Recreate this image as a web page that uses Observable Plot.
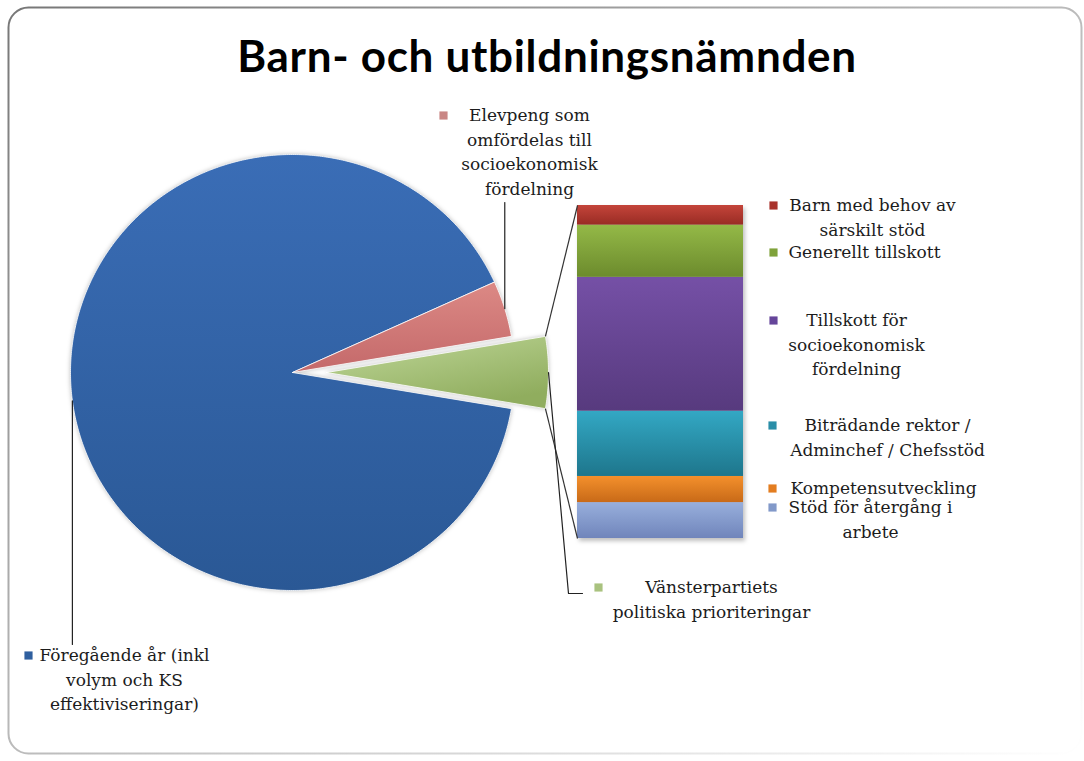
<!DOCTYPE html>
<html><head><meta charset="utf-8">
<script src="https://cdn.jsdelivr.net/npm/d3@7"></script>
<script src="https://cdn.jsdelivr.net/npm/@observablehq/plot@0.6"></script>
<style>
body{margin:0;background:#fff}
#wrap{position:relative;width:1084px;height:761px;overflow:hidden;background:#fff}
#wrap > svg{position:absolute;left:0;top:0}
</style></head><body><div id="wrap"></div>
<script>
// ---------- DATA ----------
const title = "Barn- och utbildningsnämnden";
const pieLabels = [
  "Föregående år (inkl\nvolym och KS\neffektiviseringar)",
  "Elevpeng som\nomfördelas till\nsocioekonomisk\nfördelning",
  "Vänsterpartiets\npolitiska prioriteringar"
];
const pieValues = [871, 40];            // third slice = sum of the bar below
const barLabels = [
  "Barn med behov av\nsärskilt stöd",
  "Generellt tillskott",
  "Tillskott för\nsocioekonomisk\nfördelning",
  "Biträdande rektor /\nAdminchef / Chefsstöd",
  "Kompetensutveckling",
  "Stöd för återgång i\narbete"
];
const barValues = [3, 8, 20.5, 10, 4, 5.5];

// ---------- STYLE ----------
const pieColors = [["#3a6db6", "#2a5895"], ["#dc8985", "#c4696a"], ["#c0d89a", "#90ad5e"]];
const pieMarker = ["#2f5f9f", "#c98684", "#a9c27f"];
const barColors = [["#c4443a", "#992c24"], ["#94b947", "#6c8b2d"], ["#7550a6", "#573a7e"],
                   ["#33a8c4", "#1e768c"], ["#f4902c", "#c86a18"], ["#98afdc", "#7085bb"]];
const barMarker = ["#a9322b", "#7fa23a", "#65459a", "#2a8ea8", "#e37d20", "#8299c9"];

// ---------- LAYOUT ----------
const W = 1084, H = 761;
const pie = {cx: 292, cy: 372, rx: 222, ry: 218, explode: [0, 0, 34]};
const barBox = {x0: 577, x1: 743, top: 205, bottom: 538};
const pieLabelPos = [ {cx: 124, y: 655, mx: 28}, {cx: 529, y: 115, mx: 443}, {cx: 711, y: 587, mx: 598} ];
const pieLeader = [ [[null, 644]], [[null, 202]], [[568, 593], [582, 593]] ];
const barLabelPos = [ {cx: 872, y: 205, mx: 773}, {cx: 864, y: 252, mx: 773}, {cx: 856, y: 320, mx: 773},
                      {cx: 887, y: 425, mx: 772}, {cx: 883, y: 488, mx: 772}, {cx: 870, y: 507, mx: 772} ];
const labelFont = "DejaVu Serif";

// ---------- gradients + frame ----------
const wrap = d3.select("#wrap");
const frame = wrap.append("svg").attr("width", W).attr("height", H);
const defs = frame.append("defs");
function vgrad(id, c0, c1, x2 = 0, y2 = 1) {
  const g = defs.append("linearGradient").attr("id", id)
    .attr("x1", 0).attr("y1", 0).attr("x2", x2).attr("y2", y2);
  g.append("stop").attr("offset", "0%").attr("stop-color", c0);
  g.append("stop").attr("offset", "100%").attr("stop-color", c1);
}
pieColors.forEach((c, i) => vgrad("gp" + i, c[0], c[1], i === 2 ? 0.6 : 0, 1));
barColors.forEach((c, i) => vgrad("gb" + i, c[0], c[1]));
vgrad("gframe", "#777777", "#ffffff", 1, 1);
frame.append("rect").attr("x", 8.5).attr("y", 7.5).attr("width", 1073).attr("height", 746)
  .attr("rx", 20).attr("fill", "none").attr("stroke", "url(#gframe)").attr("stroke-width", 2);
frame.append("text").attr("x", 547).attr("y", 72).attr("text-anchor", "middle")
  .attr("font-family", "Lato, 'Open Sans', sans-serif").attr("font-weight", 700)
  .attr("font-size", 44).attr("letter-spacing", 0.7).attr("fill", "#000").text(title);

// ---------- bar (second plot) ----------
const barRows = barLabels.map((label, i) => ({label, value: barValues[i], fill: `url(#gb${i})`}));
const barPlot = Plot.plot({
  width: W, height: H, margin: 0,
  x: {type: "band", domain: ["bar"], range: [barBox.x0, barBox.x1], padding: 0, axis: null},
  y: {domain: [0, d3.sum(barValues)], range: [barBox.bottom, barBox.top], axis: null},
  color: {type: "identity"},
  style: {background: "transparent", overflow: "visible"},
  marks: [
    Plot.barY(barRows.slice().reverse(), {x: () => "bar", y: "value", fill: "fill", inset: 0,
      imageFilter: "drop-shadow(2px 3px 2px rgba(0,0,0,0.25))"})
  ]
});

// ---------- pie ----------
const allPie = [...pieValues, d3.sum(barValues)];
const total = d3.sum(allPie);
const ang = allPie.map(v => v / total * 2 * Math.PI);
const g = ang[2], p = ang[1];
const spans = [[g / 2 + p, 2 * Math.PI - g / 2], [g / 2, g / 2 + p], [-g / 2, g / 2]];
const slices = spans.map(([a0, a1], i) => {
  const mid = (a0 + a1) / 2, e = pie.explode[i];
  const ox = pie.cx + e * Math.cos(mid), oy = pie.cy - e * Math.sin(mid);
  const pt = a => ({x: ox + pie.rx * Math.cos(a), y: oy - pie.ry * Math.sin(a)});
  return {i, a0, a1, mid, ox, oy, pt};
});
const wedgePts = slices.flatMap(s => {
  const n = Math.max(2, Math.ceil((s.a1 - s.a0) / (Math.PI / 360)));
  const arc = d3.range(n + 1).map(k => s.pt(s.a0 + (s.a1 - s.a0) * k / n));
  return [{x: s.ox, y: s.oy}, ...arc, {x: s.ox, y: s.oy}].map(d => ({...d, key: s.i, fill: `url(#gp${s.i})`}));
});

const bx = barPlot.scale("x").apply("bar");
const by = barPlot.scale("y");
const gs = slices[2];
const connectors = [
  {x1: gs.pt(gs.a1).x, y1: gs.pt(gs.a1).y, x2: bx, y2: by.apply(d3.sum(barValues))},
  {x1: gs.pt(gs.a0).x, y1: gs.pt(gs.a0).y, x2: bx, y2: by.apply(0)}
];
const leaders = slices.flatMap(s => {
  const a = s.pt(s.mid);
  const pts = [a, ...pieLeader[s.i].map(([x, y]) => ({x: x == null ? a.x : x, y}))];
  return pts.map(d => ({...d, key: s.i}));
});

const labelRows = [
  ...pieLabels.map((t, i) => ({text: t, ...pieLabelPos[i], color: pieMarker[i]})),
  ...barLabels.map((t, i) => ({text: t, ...barLabelPos[i], color: barMarker[i]}))
];

const piePlot = Plot.plot({
  width: W, height: H, margin: 0,
  x: {domain: [0, W], range: [0, W], axis: null},
  y: {domain: [0, H], range: [0, H], axis: null},
  color: {type: "identity"},
  style: {background: "transparent", overflow: "visible"},
  marks: [
    Plot.line(wedgePts, {x: "x", y: "y", z: "key", fill: "fill", stroke: "#ffffff", strokeWidth: 1,
      strokeOpacity: 0.8, curve: "linear",
      imageFilter: "drop-shadow(0px 0px 2px rgba(0,0,0,0.25))"}),
    Plot.link(connectors, {x1: "x1", y1: "y1", x2: "x2", y2: "y2", stroke: "#333", strokeWidth: 1.2}),
    Plot.line(leaders, {x: "x", y: "y", z: "key", stroke: "#222", strokeWidth: 1.2}),
    Plot.dot(labelRows, {x: "mx", y: "y", symbol: "square", r: 4.6, fill: "color", stroke: null}),
    Plot.text(labelRows, {x: "cx", y: d => d.y - 12, text: "text", lineAnchor: "top", textAnchor: "middle",
      fontSize: 17, fontFamily: labelFont, fill: "#1c1c1c", lineHeight: 1.45})
  ]
});

wrap.node().appendChild(barPlot);
wrap.node().appendChild(piePlot);
</script></body></html>
